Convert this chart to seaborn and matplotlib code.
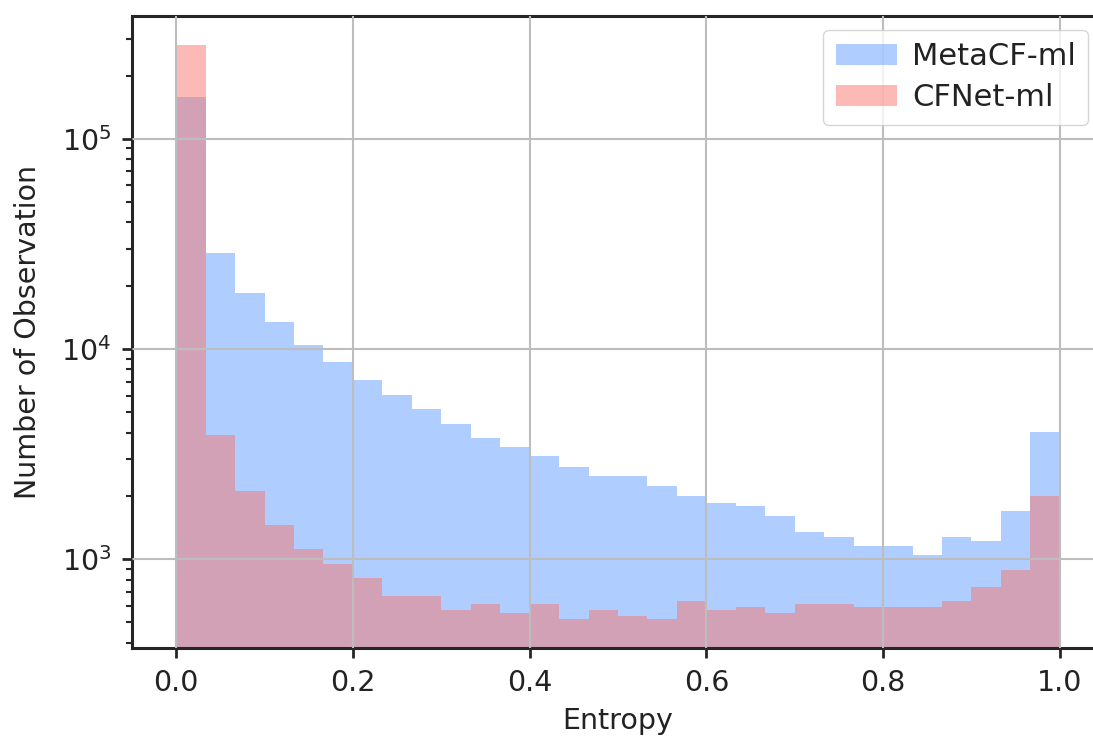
import numpy as np
import pandas as pd
import matplotlib
matplotlib.use("Agg")
import matplotlib.pyplot as plt
import seaborn as sns

# ---- data ----
n_bins = 30
bin_range = (0.0, 1.0)
metacf_counts = [158000, 28600, 18500, 13500, 10500, 8630, 7150, 6050, 5190, 4400,
                 3770, 3410, 3090, 2740, 2480, 2480, 2240, 1990, 1860, 1800,
                 1600, 1350, 1270, 1160, 1160, 1050, 1270, 1220, 1690, 4030]
cfnet_counts = [280000, 3900, 2120, 1450, 1120, 950, 813, 667, 667, 571,
                611, 553, 611, 518, 571, 535, 518, 631, 571, 590,
                553, 611, 611, 590, 590, 590, 631, 736, 889, 1990]
series_names = ["MetaCF-ml", "CFNet-ml"]
series_colors = ["#619CFF", "#F8766D"]
x_label = "Entropy"
y_label = "Number of Observation"

edges = np.linspace(bin_range[0], bin_range[1], n_bins + 1)
centers = (edges[:-1] + edges[1:]) / 2
df = pd.DataFrame({
    "entropy": np.concatenate([centers, centers]),
    "count": np.concatenate([metacf_counts, cfnet_counts]).astype(float),
    "model": [series_names[0]] * n_bins + [series_names[1]] * n_bins,
})

sns.set_theme(style="ticks")
plt.rcParams["font.family"] = ["DejaVu Sans"]

fig = plt.figure(figsize=(10.93, 7.36), dpi=100)
ax = fig.add_axes([132 / 1093, 88 / 736, 972 / 1093, 632 / 736])

for name, col in zip(series_names, series_colors):
    sub = df[df["model"] == name].reset_index(drop=True)
    sns.histplot(data=sub, x="entropy", weights="count",
                 bins=n_bins, binrange=bin_range, color=col, alpha=0.5, linewidth=0,
                 element="bars", ax=ax, label=name)

ax.set_yscale("log")
ax.set_xlim(-0.05, 1.05)
ax.set_ylim(378, 384000)
ax.set_xticks([0.0, 0.2, 0.4, 0.6, 0.8, 1.0])
ax.set_xticklabels(["0.0", "0.2", "0.4", "0.6", "0.8", "1.0"])

ax.grid(True, which="major", color="#bdbdbd", linewidth=1.5)
ax.set_axisbelow(False)

for s in ax.spines.values():
    s.set_color("#262626")
    s.set_linewidth(2.2)

ax.tick_params(axis="both", which="major", labelsize=20.5, length=7, width=2,
               color="#262626", labelcolor="#222222", pad=8)
ax.tick_params(axis="y", which="minor", length=4.5, width=1.5, color="#262626")

ax.set_xlabel(x_label, fontsize=20.5, color="#222222", labelpad=7)
ax.set_ylabel(y_label, fontsize=20.5, color="#222222", labelpad=14)

leg = ax.legend(loc="upper right", bbox_to_anchor=(1.0 - (1104 - 1088) / 972, 1.0 - 14 / 632),
                fontsize=22, frameon=True, framealpha=0.8, edgecolor="#cccccc",
                borderaxespad=0.0, handlelength=2.0, handletextpad=0.5,
                borderpad=0.4, labelspacing=0.4)
for t in leg.get_texts():
    t.set_color("#222222")

fig.savefig("out.png", dpi=100)
